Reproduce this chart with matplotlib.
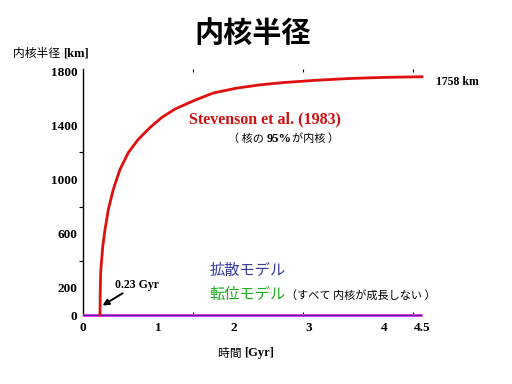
"""Inner core radius growth (Stevenson et al. 1983) vs. diffusion / dislocation models."""

import matplotlib
matplotlib.use("Agg")
import matplotlib.pyplot as plt

JP = ["Noto Sans CJK JP", "DejaVu Sans"]
SERIF = ["Liberation Serif", "DejaVu Serif"]

# Stevenson et al. (1983) inner core radius [km] vs time [Gyr]
t_stevenson = [0.226, 0.228, 0.235, 0.262, 0.292, 0.336, 0.402, 0.491, 0.601, 0.734,
               0.889, 1.045, 1.22, 1.464, 1.73, 2.04, 2.35, 2.66, 3.10, 3.54, 3.99, 4.5]
r_stevenson = [0, 150, 321, 505, 630, 778, 926, 1074, 1198, 1296,
               1383, 1457, 1519, 1580, 1638, 1674, 1698, 1715, 1732, 1745, 1753, 1758]

# diffusion / dislocation models: no inner core growth
t_flat = [0.0, 4.5]
r_flat = [0, 0]

xtick_vals = [0, 1, 2, 3, 4, 4.5]
xtick_labels = ["0", "1", "2", "3", "4", "4.5"]
xminor_vals = [1.46, 2.92, 4.38]
ytick_vals = [0, 200, 600, 1000, 1400, 1800]
yminor_vals = [400, 800, 1200]

fig = plt.figure(figsize=(5.12, 3.84), dpi=100)
ax = fig.add_axes([83 / 512, 1 - 315 / 384, (422 - 83) / 512, (315 - 69) / 384])

# zero line (diffusion + dislocation models)
ax.plot(t_flat, r_flat, color="#ff44ff", lw=2.2, solid_capstyle="butt", zorder=3, clip_on=False)
ax.plot(t_flat, r_flat, color="#552299", lw=1.0, solid_capstyle="butt", zorder=4, clip_on=False)
# Stevenson curve
ax.plot(t_stevenson, r_stevenson, color="#e01010", lw=2.0, zorder=5, clip_on=False,
        solid_joinstyle="round")

ax.set_xlim(0, 4.5)
ax.set_ylim(0, 1815)

for side in ["top", "right", "bottom"]:
    ax.spines[side].set_visible(False)
ax.spines["left"].set_linewidth(1.0)

ax.set_xticks(xtick_vals)
ax.set_xticklabels(xtick_labels, fontfamily=SERIF, fontweight="bold", fontsize=9.5)
ax.set_xticks(xminor_vals, minor=True)
ax.tick_params(axis="x", which="major", length=0, pad=5)
ax.tick_params(axis="x", which="minor", length=2.5, direction="in", top=True, width=0.8)

ax.set_yticks(ytick_vals)
ax.set_yticklabels([str(v) for v in ytick_vals], fontfamily=SERIF, fontweight="bold", fontsize=9.5)
ax.set_yticks(yminor_vals, minor=True)
ax.tick_params(axis="y", which="major", length=0, pad=4)
ax.tick_params(axis="y", which="minor", length=3, direction="out", width=0.8)

# title and axis labels
fig.text(0.494, 1 - 33 / 384, "内核半径", family=JP, fontweight="bold", fontsize=21,
         ha="center", va="center")
ylab = fig.text(13 / 512, 1 - 53 / 384, "内核半径 ", family=JP, fontsize=8.5, va="center")
ax.annotate("[km]", xy=(1, 0.5), xycoords=ylab, va="center", ha="left",
            family=SERIF, fontweight="bold", fontsize=9)
xlab = fig.text(218 / 512, 1 - 353 / 384, "時間 ", family=JP, fontsize=8.5, va="center")
ax.annotate("[Gyr]", xy=(1, 0.5), xycoords=xlab, va="center", ha="left",
            family=SERIF, fontweight="bold", fontsize=9)

# annotations
ax.annotate("1758 km", xy=(t_stevenson[-1], r_stevenson[-1]), xytext=(10, -4),
            textcoords="offset points", family=SERIF, fontweight="bold", fontsize=8.5,
            va="center", ha="left", annotation_clip=False)
ax.text(1.41, 1445, "Stevenson et al. (1983)", color="#d01010", family=SERIF,
        fontweight="bold", fontsize=11.5, va="center")
note = ax.text(1.93, 1300, "（ 核の ", family=JP, fontsize=8, va="center")
pct = ax.annotate("95%", xy=(1, 0.5), xycoords=note, va="center", ha="left",
                  family=SERIF, fontweight="bold", fontsize=9)
ax.annotate("が内核 ）", xy=(1, 0.5), xycoords=pct, va="center", ha="left",
            family=JP, fontsize=8)

ax.text(1.68, 330, "拡散モデル", color="#3a3aa0", family=JP, fontsize=11, va="center")
dis = ax.text(1.68, 150, "転位モデル", color="#22aa22", family=JP, fontsize=11, va="center")
ax.annotate("（すべて 内核が成長しない ）", xy=(1, 0.45), xycoords=dis, va="center",
            ha="left", family=JP, fontsize=8)

ax.annotate("0.23 Gyr", xy=(0.26, 70), xytext=(0.42, 225), family=SERIF,
            fontweight="bold", fontsize=8.5, va="center", ha="left",
            arrowprops=dict(arrowstyle="-|>", color="black", lw=1.4,
                            mutation_scale=9, shrinkA=0, shrinkB=0,
                            relpos=(0.33, 0.1)))

fig.savefig("out.png", dpi=100)
